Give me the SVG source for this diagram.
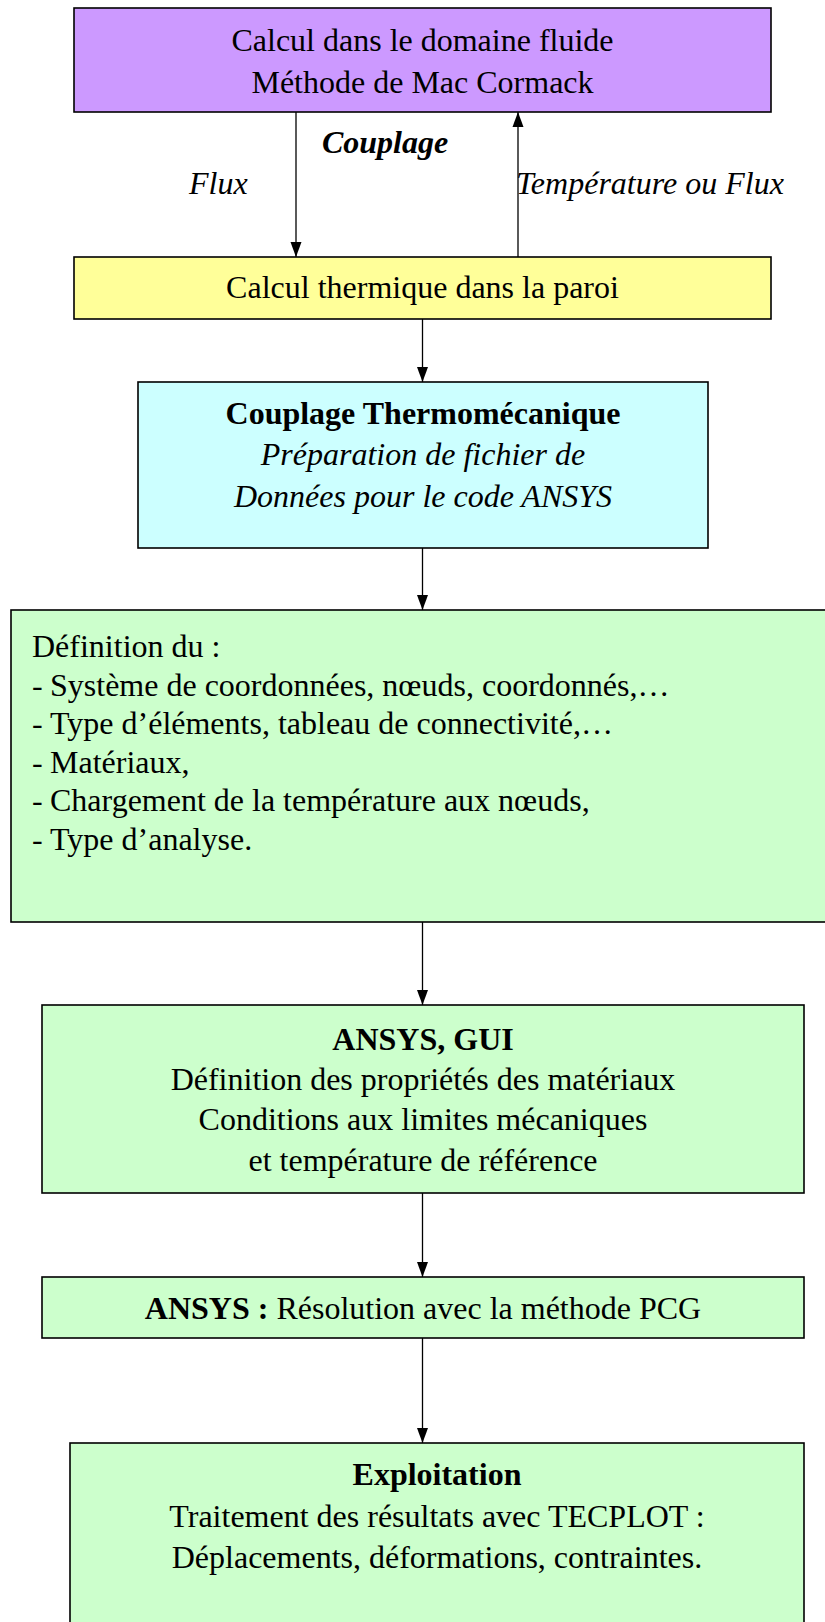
<svg xmlns="http://www.w3.org/2000/svg" width="825" height="1622" viewBox="0 0 825 1622">
<style>
  .box { stroke: #000; stroke-width: 1.6; }
  .t { font-family: "Liberation Serif", "Times New Roman", serif; font-size: 32px; fill: #000; }
  .c { text-anchor: middle; }
  .b { font-weight: bold; }
  .i { font-style: italic; }
  .conn { stroke: #000; stroke-width: 1.3; fill: none; marker-end: url(#arr); }
</style>
<defs>
  <marker id="arr" markerUnits="userSpaceOnUse" markerWidth="16" markerHeight="12" refX="15" refY="6" orient="auto">
    <path d="M0,0.5 L15,6 L0,11.5 z" fill="#000"/>
  </marker>
</defs>
<rect width="825" height="1622" fill="#fff"/>

<g id="connectors">
  <line class="conn" x1="296" y1="112" x2="296" y2="257"/>
  <line class="conn" x1="518" y1="257" x2="518" y2="112"/>
  <line class="conn" x1="422.5" y1="319" x2="422.5" y2="382"/>
  <line class="conn" x1="422.5" y1="548" x2="422.5" y2="610"/>
  <line class="conn" x1="422.5" y1="922" x2="422.5" y2="1005"/>
  <line class="conn" x1="422.5" y1="1193" x2="422.5" y2="1277"/>
  <line class="conn" x1="422.5" y1="1338" x2="422.5" y2="1443"/>
</g>

<g id="labels">
  <text class="t b i c" x="385" y="153">Couplage</text>
  <text class="t i" x="189" y="194">Flux</text>
  <text class="t i" x="516" y="194">Température ou Flux</text>
</g>

<g id="n_fluide">
  <rect class="box" x="74" y="8" width="697" height="104" fill="#CC99FF"/>
  <text class="t c" x="422.5" y="51">Calcul dans le domaine fluide</text>
  <text class="t c" x="422.5" y="93">Méthode de Mac Cormack</text>
</g>

<g id="n_paroi">
  <rect class="box" x="74" y="257" width="697" height="62" fill="#FFFF99"/>
  <text class="t c" x="422.5" y="298">Calcul thermique dans la paroi</text>
</g>

<g id="n_couplage">
  <rect class="box" x="138" y="382" width="570" height="166" fill="#CCFFFF"/>
  <text class="t c b" x="423" y="424">Couplage Thermomécanique</text>
  <text class="t c i" x="423" y="465">Préparation de fichier de</text>
  <text class="t c i" x="423" y="507">Données pour le code ANSYS</text>
</g>

<g id="n_definition">
  <rect class="box" x="11" y="610" width="830" height="312" fill="#CCFFCC"/>
  <text class="t" x="32" y="657">Définition du :</text>
  <text class="t" x="32" y="695.5">-</text><text class="t" x="50" y="695.5">Système de coordonnées, nœuds, coordonnés,…</text>
  <text class="t" x="32" y="734">-</text><text class="t" x="50" y="734">Type d’éléments, tableau de connectivité,…</text>
  <text class="t" x="32" y="772.5">-</text><text class="t" x="50" y="772.5">Matériaux,</text>
  <text class="t" x="32" y="811">-</text><text class="t" x="50" y="811">Chargement de la température aux nœuds,</text>
  <text class="t" x="32" y="849.5">-</text><text class="t" x="50" y="849.5">Type d’analyse.</text>
</g>

<g id="n_gui">
  <rect class="box" x="42" y="1005" width="762" height="188" fill="#CCFFCC"/>
  <text class="t c b" x="423" y="1050">ANSYS, GUI</text>
  <text class="t c" x="423" y="1090">Définition des propriétés des matériaux</text>
  <text class="t c" x="423" y="1130">Conditions aux limites mécaniques</text>
  <text class="t c" x="423" y="1171">et température de référence</text>
</g>

<g id="n_resolution">
  <rect class="box" x="42" y="1277" width="762" height="61" fill="#CCFFCC"/>
  <text class="t c" x="423" y="1319"><tspan class="b">ANSYS :</tspan> Résolution avec la méthode PCG</text>
</g>

<g id="n_exploitation">
  <rect class="box" x="70" y="1443" width="734" height="200" fill="#CCFFCC"/>
  <text class="t c b" x="437" y="1485">Exploitation</text>
  <text class="t c" x="437" y="1527">Traitement des résultats avec TECPLOT :</text>
  <text class="t c" x="437" y="1568">Déplacements, déformations, contraintes.</text>
</g>
</svg>
